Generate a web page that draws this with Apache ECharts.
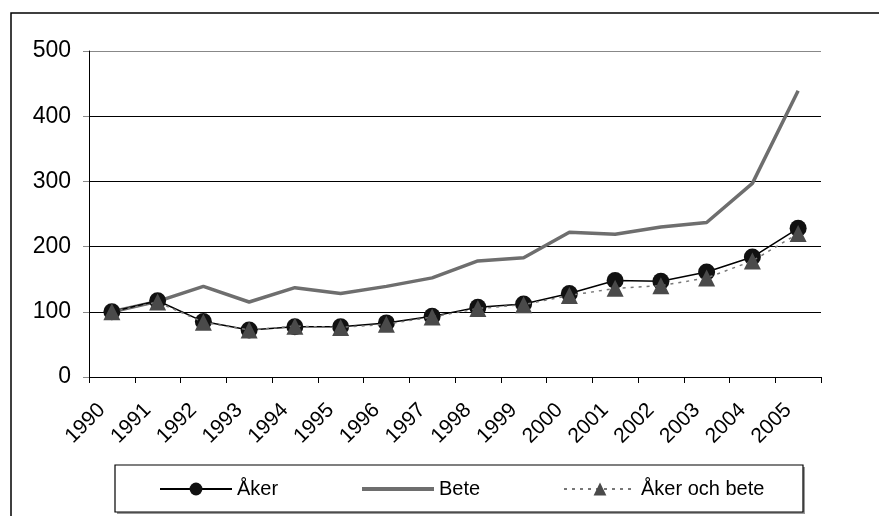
<!DOCTYPE html>
<html>
<head>
<meta charset="utf-8">
<script src="https://cdn.jsdelivr.net/npm/echarts@6/dist/echarts.min.js"></script>
<style>
  html, body { margin: 0; padding: 0; background: #fff; }
  #chart { width: 879px; height: 516px; }
</style>
</head>
<body>
<div id="chart"></div>
<script>
let years = ['1990','1991','1992','1993','1994','1995','1996','1997','1998','1999','2000','2001','2002','2003','2004','2005'];
let aker = [100,117,85,72,77,77,83,93,107,112,128,148,147,161,184,228];
let bete = [100,116,139,115,137,128,139,152,178,183,222,219,230,237,297,439];
let akerBete = [100,115,84,72,78,76,81,92,105,111,125,136,140,152,178,220];
let yTicks = [0,100,200,300,400,500];

let chart = echarts.init(document.getElementById('chart'));
let font = 'Liberation Sans, Arial, sans-serif';

let legendBase = {
    orient: 'horizontal',
    top: 479,
    padding: 0,
    itemWidth: 72,
    itemHeight: 16,
    itemGap: 0,
    textStyle: { fontFamily: font, fontSize: 20, color: '#000' }
};

option = {
    animation: false,
    backgroundColor: '#fff',
    graphic: [
        {
            type: 'rect',
            shape: { x: 11, y: 13, width: 950, height: 600 },
            style: { fill: 'none', stroke: '#000', lineWidth: 1.5 },
            silent: true
        },
        {
            type: 'rect',
            shape: { x: 117, y: 467, width: 688, height: 47 },
            style: { fill: '#999', stroke: 'none' },
            silent: true
        },
        {
            type: 'rect',
            shape: { x: 115, y: 465, width: 688, height: 47 },
            style: { fill: '#fff', stroke: '#000', lineWidth: 1.2 },
            silent: true
        }
    ],
    legend: [
        Object.assign({ left: 159, data: ['Åker'] }, legendBase),
        Object.assign({ left: 360, data: [{ name: 'Bete', itemStyle: { opacity: 0 }, lineStyle: { width: 4 } }] }, legendBase),
        Object.assign({ left: 563, data: ['Åker och bete'] }, legendBase)
    ],
    grid: {
        left: 89,
        right: 58,
        top: 51,
        bottom: 139
    },
    xAxis: {
        type: 'category',
        data: years,
        boundaryGap: true,
        axisLine: { lineStyle: { color: '#000', width: 1 } },
        axisTick: { show: true, length: 6, lineStyle: { color: '#000' } },
        axisLabel: {
            rotate: 45,
            interval: 0,
            margin: 20,
            padding: [0, 14, 0, 0],
            fontFamily: font,
            fontSize: 21,
            color: '#000'
        }
    },
    yAxis: {
        type: 'value',
        min: yTicks[0],
        max: yTicks[yTicks.length - 1],
        interval: 100,
        axisLine: { show: true, lineStyle: { color: '#000', width: 1 } },
        axisTick: { show: true, length: 6, lineStyle: { color: '#888' } },
        axisLabel: {
            margin: 18,
            fontFamily: font,
            fontSize: 23,
            color: '#000'
        },
        splitLine: {
            show: true,
            lineStyle: { color: ['#000','#000','#000','#000','#000','#888'], width: 1 }
        }
    },
    series: [
        {
            name: 'Åker',
            type: 'line',
            data: aker,
            symbol: 'circle',
            symbolSize: 17,
            itemStyle: { color: '#111' },
            lineStyle: { color: '#000', width: 1.5 },
            z: 3
        },
        {
            name: 'Bete',
            type: 'line',
            data: bete,
            symbol: 'none',
            itemStyle: { color: '#6e6e6e' },
            lineStyle: { color: '#6e6e6e', width: 3.5 },
            z: 2
        },
        {
            name: 'Åker och bete',
            type: 'line',
            data: akerBete,
            symbol: 'triangle',
            symbolSize: 17,
            itemStyle: { color: '#4a4a4a' },
            lineStyle: { color: '#777', width: 1.5, type: [3, 5] },
            z: 4
        }
    ]
};
chart.setOption(option);
</script>
</body>
</html>
